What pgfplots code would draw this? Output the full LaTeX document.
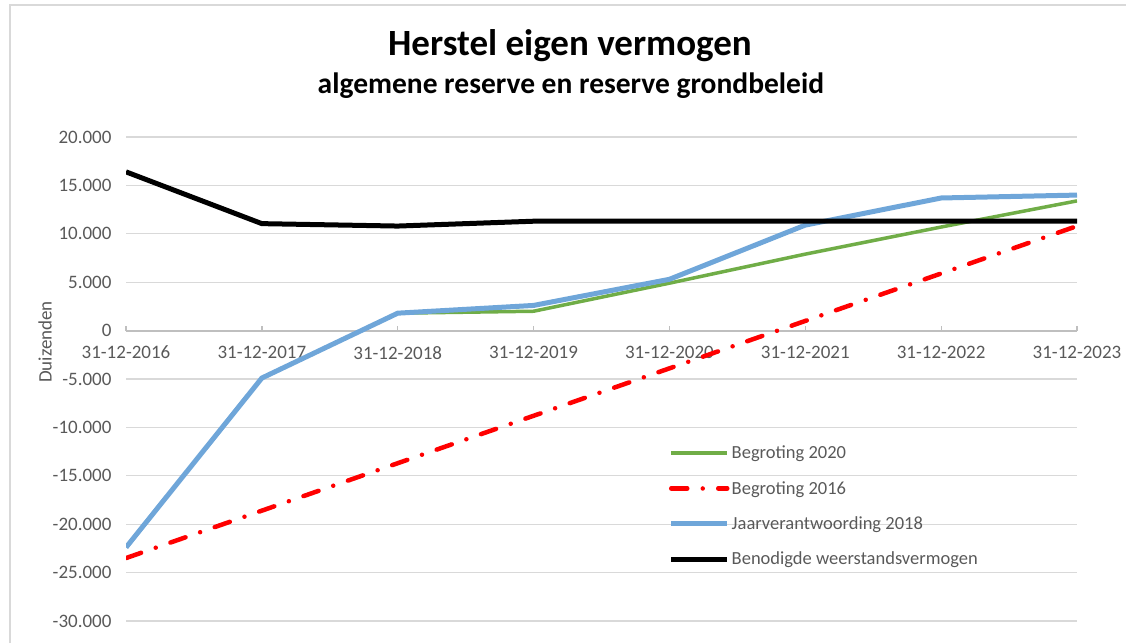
\documentclass[border=0pt]{standalone}
\usepackage{fontspec}
\setmainfont{Carlito}
\usepackage{pgfplots}
\pgfplotsset{compat=1.18}
\definecolor{cgreen}{HTML}{70AD47}
\definecolor{cblue}{HTML}{6FA6D9}
\definecolor{cgrid}{HTML}{D9D9D9}
\definecolor{caxis}{HTML}{BFBFBF}
\definecolor{ctext}{HTML}{595959}
\begin{document}
\begin{tikzpicture}[x=1pt,y=1pt]
\useasboundingbox (0,0) rectangle (1126,643);
\draw[cgrid, line width=1.5pt] (10,0) -- (10,638) -- (1126,638);
\node[font=\fontsize{37}{44}\selectfont\bfseries] at (570,597) {Herstel eigen vermogen};
\node[font=\fontsize{29.5}{35}\selectfont\bfseries] at (571,557) {algemene reserve en reserve grondbeleid};
\node[rotate=90, text=ctext, font=\fontsize{19}{22}\selectfont] at (45,301) {Duizenden};
\begin{axis}[
  at={(126pt,22pt)}, anchor=south west,
  scale only axis, width=951pt, height=484pt,
  xmin=0, xmax=7, ymin=-30000, ymax=20000,
  axis x line=middle, axis y line=left,
  axis line style={-},
  x axis line style={draw=caxis, line width=1.8pt},
  y axis line style={draw=none},
  hide obscured x ticks=false,
  xtick={0,...,7},
  xticklabels={31-12-2016,31-12-2017,31-12-2018,31-12-2019,31-12-2020,31-12-2021,31-12-2022,31-12-2023},
  ytick={-30000,-25000,-20000,-15000,-10000,-5000,0,5000,10000,15000,20000},
  yticklabels={-30.000,-25.000,-20.000,-15.000,-10.000,-5.000,0,5.000,10.000,15.000,20.000},
  scaled y ticks=false,
  tick align=inside,
  major tick length=5pt,
  xtick style={draw=caxis, line width=1.3pt},
  ytick style={draw=none},
  ymajorgrids,
  grid style={cgrid, line width=1.3pt},
  ticklabel style={text=ctext, font=\fontsize{19}{22}\selectfont},
  xticklabel style={yshift=-12pt},
  yticklabel style={xshift=-11pt},
  legend cell align=left,
  legend style={draw=none, fill=none, at={(0.5705,0.366)}, anchor=north west,
    font=\fontsize{18.5}{22}\selectfont, text=ctext, row sep=17pt, inner sep=0pt},
  legend image code/.code={\draw[#1] (0pt,0pt) -- (56pt,0pt);},
]
\addplot[cgreen, line width=3.5pt] coordinates {(2,1800)(3,2000)(4,4900)(5,7900)(6,10700)(7,13400)};
\addlegendentry{Begroting 2020}
\addplot[red, line width=4.5pt, line cap=round, dash pattern=on 16pt off 15.5pt on 0pt off 15.5pt] coordinates {(0,-23500)(1,-18600)(2,-13700)(3,-8800)(4,-3900)(5,1000)(6,5900)(7,10800)};
\addlegendentry{Begroting 2016}
\addplot[cblue, line width=5pt] coordinates {(0,-22400)(1,-4900)(2,1800)(3,2600)(4,5300)(5,10900)(6,13700)(7,14000)};
\addlegendentry{Jaarverantwoording 2018}
\addplot[black, line width=5pt] coordinates {(0,16400)(1,11050)(2,10800)(3,11300)(4,11300)(5,11300)(6,11300)(7,11300)};
\addlegendentry{Benodigde weerstandsvermogen}
\end{axis}
\end{tikzpicture}
\end{document}
